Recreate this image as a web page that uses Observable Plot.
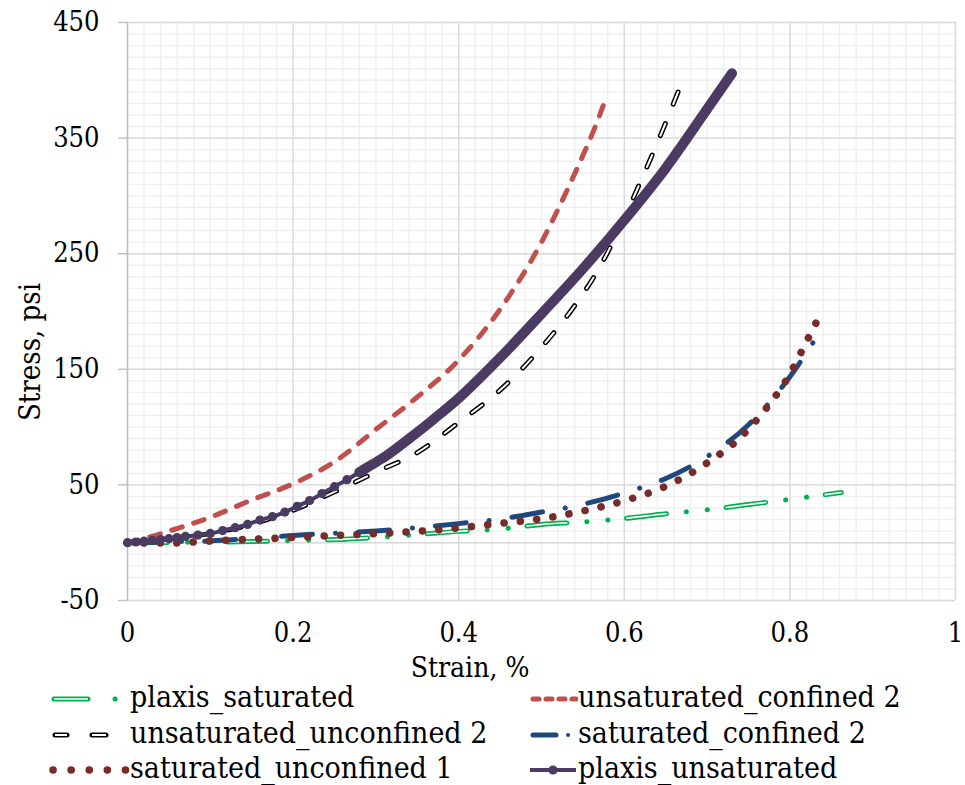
<!DOCTYPE html>
<html><head><meta charset="utf-8">
<script src="https://cdn.jsdelivr.net/npm/d3@7"></script>
<script src="https://cdn.jsdelivr.net/npm/@observablehq/plot@0.6"></script>
<style>
body{margin:0;background:#fff;font-family:"DejaVu Serif Condensed","DejaVu Serif",serif;font-stretch:condensed;}
#chart{position:relative;width:965px;height:785px;overflow:hidden;}
#chart svg text{font-stretch:condensed;}
.leg{position:absolute;font-size:30px;line-height:1;white-space:nowrap;color:#000;font-stretch:condensed;}
.sym{position:absolute;}
</style></head><body><div id="chart"></div>
<script>
// ---- data ----
const xTicks = [0, 0.2, 0.4, 0.6, 0.8, 1];
const yTicks = [-50, 50, 150, 250, 350, 450];
const xTitle = "Strain, %";
const yTitle = "Stress, psi";
const seriesNames = ["plaxis_saturated", "unsaturated_confined 2", "unsaturated_unconfined 2",
                     "saturated_confined 2", "saturated_unconfined 1", "plaxis_unsaturated"];

const plaxisSatX = [0,0.05,0.1,0.15,0.2,0.25,0.3,0.35,0.4,0.45,0.5,0.55,0.6,0.65,0.7,0.75,0.8,0.862];
const plaxisSatY = [0,0.2,0.5,1,1.8,2.7,4.6,7.1,9.8,11.8,15.8,17.9,21,25,28.5,33,37.5,43.5];

const unsatConfX = [0,0.02,0.05,0.1,0.15,0.2,0.25,0.3,0.35,0.4,0.45,0.5,0.525,0.55,0.565,0.578];
const unsatConfY = [0,3.6,10,22,37,51,70,98,126,158,202,260,296,335,360,385];

const unsatUnconfX = [0,0.05,0.1,0.15,0.2,0.25,0.3,0.35,0.4,0.45,0.5,0.54,0.57,0.6,0.62,0.64,0.665];
const unsatUnconfY = [0,3.5,8,16,28,44,61,78,104,132,169,205,238,281,313,346,390];

const satConfX = [0,0.05,0.1,0.15,0.2,0.25,0.3,0.35,0.4,0.45,0.5,0.55,0.6,0.65,0.7,0.75,0.8,0.835];
const satConfY = [0,0.8,1.5,3.6,6.3,8.2,10.2,13,16.5,20.5,26.5,33.2,43,55.5,74.5,102,143.5,181];

const satUnconfX = [0,0.05,0.1,0.15,0.2,0.25,0.3,0.35,0.4,0.45,0.5,0.55,0.6,0.65,0.7,0.74,0.77,0.8,0.82,0.835];
const satUnconfY = [0,-0.3,1.5,3,4.5,6.3,7.8,9.9,12.8,16.7,20.8,27.4,36.3,48.8,69,91,115,146,174,195];

const plaxisUnsatX = [0,0.01,0.02,0.03,0.04,0.05,0.06,0.07,0.085,0.1,0.115,0.13,0.145,0.16,0.175,0.19,0.205,0.22,0.235,0.25,0.265,0.28,0.295,0.31,0.34,0.37,0.4,0.45,0.5,0.55,0.6,0.65,0.7,0.73];
const plaxisUnsatY = [0,0.6,1.3,2,2.7,3.5,4.4,5.4,6.6,8,10.5,13,15.8,19.6,22.5,26.5,31.5,36.5,42.5,48.5,54.5,61,67.5,74,90,107,125,160,198,237,279,324,375,406];

// ---- build ----
const FONT = '"DejaVu Serif Condensed","DejaVu Serif",serif';
const rows = (xs, ys) => xs.map((x, i) => ({x, y: ys[i]}));
const dPS = rows(plaxisSatX, plaxisSatY);
const dUC = rows(unsatConfX, unsatConfY);
const dUU = rows(unsatUnconfX, unsatUnconfY);
const dSC = rows(satConfX, satConfY);
const dSU = rows(satUnconfX, satUnconfY);
const dPU = rows(plaxisUnsatX, plaxisUnsatY);

const C = {green:"#00b050", red:"#c0504d", black:"#000000", blue:"#1f497d", dred:"#772c2a", purple:"#4b3a62"};
const minorX = d3.range(0, 50).map(i => i * 0.02).filter((v, i) => i % 10 !== 0).concat([1]);
const minorY = d3.range(0, 51).map(i => -50 + i * 10);
const L = {x: "x", y: "y", curve: "monotone-x"};

const chart = Plot.plot({
  width: 965, height: 690,
  marginLeft: 127, marginRight: 10, marginTop: 22, marginBottom: 90,
  x: {domain: [0, 1]},
  y: {domain: [-50, 450]},
  style: {fontFamily: FONT, fontSize: "27px", color: "black", background: "white"},
  marks: [
    Plot.gridX(minorX, {stroke: "#efefef", strokeOpacity: 1, strokeWidth: 1.4}),
    Plot.gridY(minorY, {stroke: "#efefef", strokeOpacity: 1, strokeWidth: 1.4}),
    Plot.gridX(xTicks.slice(1), {stroke: "#d9d9d9", strokeOpacity: 1, strokeWidth: 1.4}),
    Plot.gridY(yTicks, {stroke: "#d9d9d9", strokeOpacity: 1, strokeWidth: 1.4}),
    Plot.ruleY([0], {stroke: "#d9d9d9", strokeWidth: 1.4}),
    Plot.ruleX([0], {stroke: "#bfbfbf", strokeWidth: 1.6}),
    Plot.axisY({ticks: yTicks, tickSize: 9, tickPadding: 19, stroke: "#bfbfbf", strokeWidth: 1.4, fill: "black", fontSize: 27, label: null, tickFormat: d => String(d)}),
    Plot.axisX({ticks: xTicks, tickSize: 0, tickPadding: 22, fill: "black", fontSize: 27, label: null, tickFormat: d => String(d)}),
    // plaxis_saturated
    Plot.line(dPS, {...L, stroke: C.green, strokeWidth: 5, strokeDasharray: "40 20 0.1 21 0.1 18.8", strokeLinecap: "round"}),
    Plot.line(dPS, {...L, stroke: "white", strokeWidth: 1.6, strokeDasharray: "40 60"}),
    // unsaturated_confined 2
    Plot.line(dUC, {...L, stroke: C.red, strokeWidth: 5, strokeDasharray: "11 12", strokeLinecap: "round"}),
    // unsaturated_unconfined 2
    Plot.line(dUU, {...L, stroke: C.black, strokeWidth: 5, strokeDasharray: "13 21", strokeLinecap: "round"}),
    Plot.line(dUU, {...L, stroke: "white", strokeWidth: 2, strokeDasharray: "13 21"}),
    // saturated_confined 2
    Plot.line(dSC, {...L, stroke: C.blue, strokeWidth: 5, strokeDasharray: "31 23 0.1 23", strokeLinecap: "round"}),
    // saturated_unconfined 1
    Plot.line(dSU, {...L, stroke: C.dred, strokeWidth: 7.5, strokeDasharray: "0.1 16.3", strokeLinecap: "round"}),
    // plaxis_unsaturated
    Plot.line(dPU, {...L, stroke: C.purple, strokeWidth: 4}),
    Plot.line(dPU.filter(d => d.x >= 0.28), {...L, stroke: C.purple, strokeWidth: 10, strokeLinecap: "round"}),
    Plot.dot(dPU, {x: "x", y: "y", r: 4.6, fill: C.purple, stroke: "none"})
  ]
});
const host = document.getElementById("chart");
host.appendChild(chart);
const svg = d3.select(chart);
svg.append("text").attr("x", 470).attr("y", 677).attr("text-anchor", "middle")
   .attr("font-size", 28).style("font-family", FONT).attr("fill", "black").text(xTitle);
svg.append("text").attr("transform", "translate(40,352) rotate(-90)").attr("text-anchor", "middle")
   .attr("font-size", 29).style("font-family", FONT).attr("fill", "black").text(yTitle);

// ---- legend ----
function sym(left, top, w, draw) {
  const s = d3.select(host).append("svg").attr("class", "sym")
    .style("left", left + "px").style("top", (top - 10) + "px").attr("width", w).attr("height", 20);
  draw(s, w);
}
function seg(s, x1, x2, o) {
  s.append("line").attr("x1", x1).attr("x2", x2).attr("y1", 10).attr("y2", 10)
   .attr("stroke", o.stroke).attr("stroke-width", o.w).attr("stroke-linecap", o.cap || "butt")
   .attr("stroke-dasharray", o.dash || null);
}
const legendRows = [699, 735, 770];
const leftSym = 48, leftText = 130, rightSym = 528, rightText = 578;
const items = [
  {name: seriesNames[0], col: 0, row: 0, draw: s => {
    seg(s, 6, 40, {stroke: C.green, w: 5, cap: "round"}); seg(s, 6, 40, {stroke: "white", w: 1.6});
    seg(s, 67, 67.1, {stroke: C.green, w: 5, cap: "round"}); }},
  {name: seriesNames[2], col: 0, row: 1, draw: s => {
    seg(s, 7, 19, {stroke: "black", w: 5, cap: "round"}); seg(s, 7, 19, {stroke: "white", w: 2});
    seg(s, 44, 58, {stroke: "black", w: 5, cap: "round"}); seg(s, 44, 58, {stroke: "white", w: 2}); }},
  {name: seriesNames[4], col: 0, row: 2, draw: s => {
    seg(s, 5, 80, {stroke: C.dred, w: 7.5, cap: "round", dash: "0.1 18"}); }},
  {name: seriesNames[1], col: 1, row: 0, draw: s => {
    seg(s, 5, 48, {stroke: C.red, w: 5, cap: "round", dash: "6 7"}); }},
  {name: seriesNames[3], col: 1, row: 1, draw: s => {
    seg(s, 5, 28, {stroke: C.blue, w: 5, cap: "round"}); seg(s, 40, 40.1, {stroke: C.blue, w: 4, cap: "round"}); }},
  {name: seriesNames[5], col: 1, row: 2, draw: s => {
    seg(s, 2, 48, {stroke: C.purple, w: 4});
    s.append("circle").attr("cx", 25).attr("cy", 10).attr("r", 4.6).attr("fill", C.purple); }}
];
items.forEach(it => {
  const cy = legendRows[it.row];
  sym(it.col ? rightSym : leftSym, cy, it.col ? 50 : 82, it.draw);
  d3.select(host).append("div").attr("class", "leg")
    .style("left", (it.col ? rightText : leftText) + "px").style("top", (cy - 17) + "px").text(it.name);
});
</script></body></html>
